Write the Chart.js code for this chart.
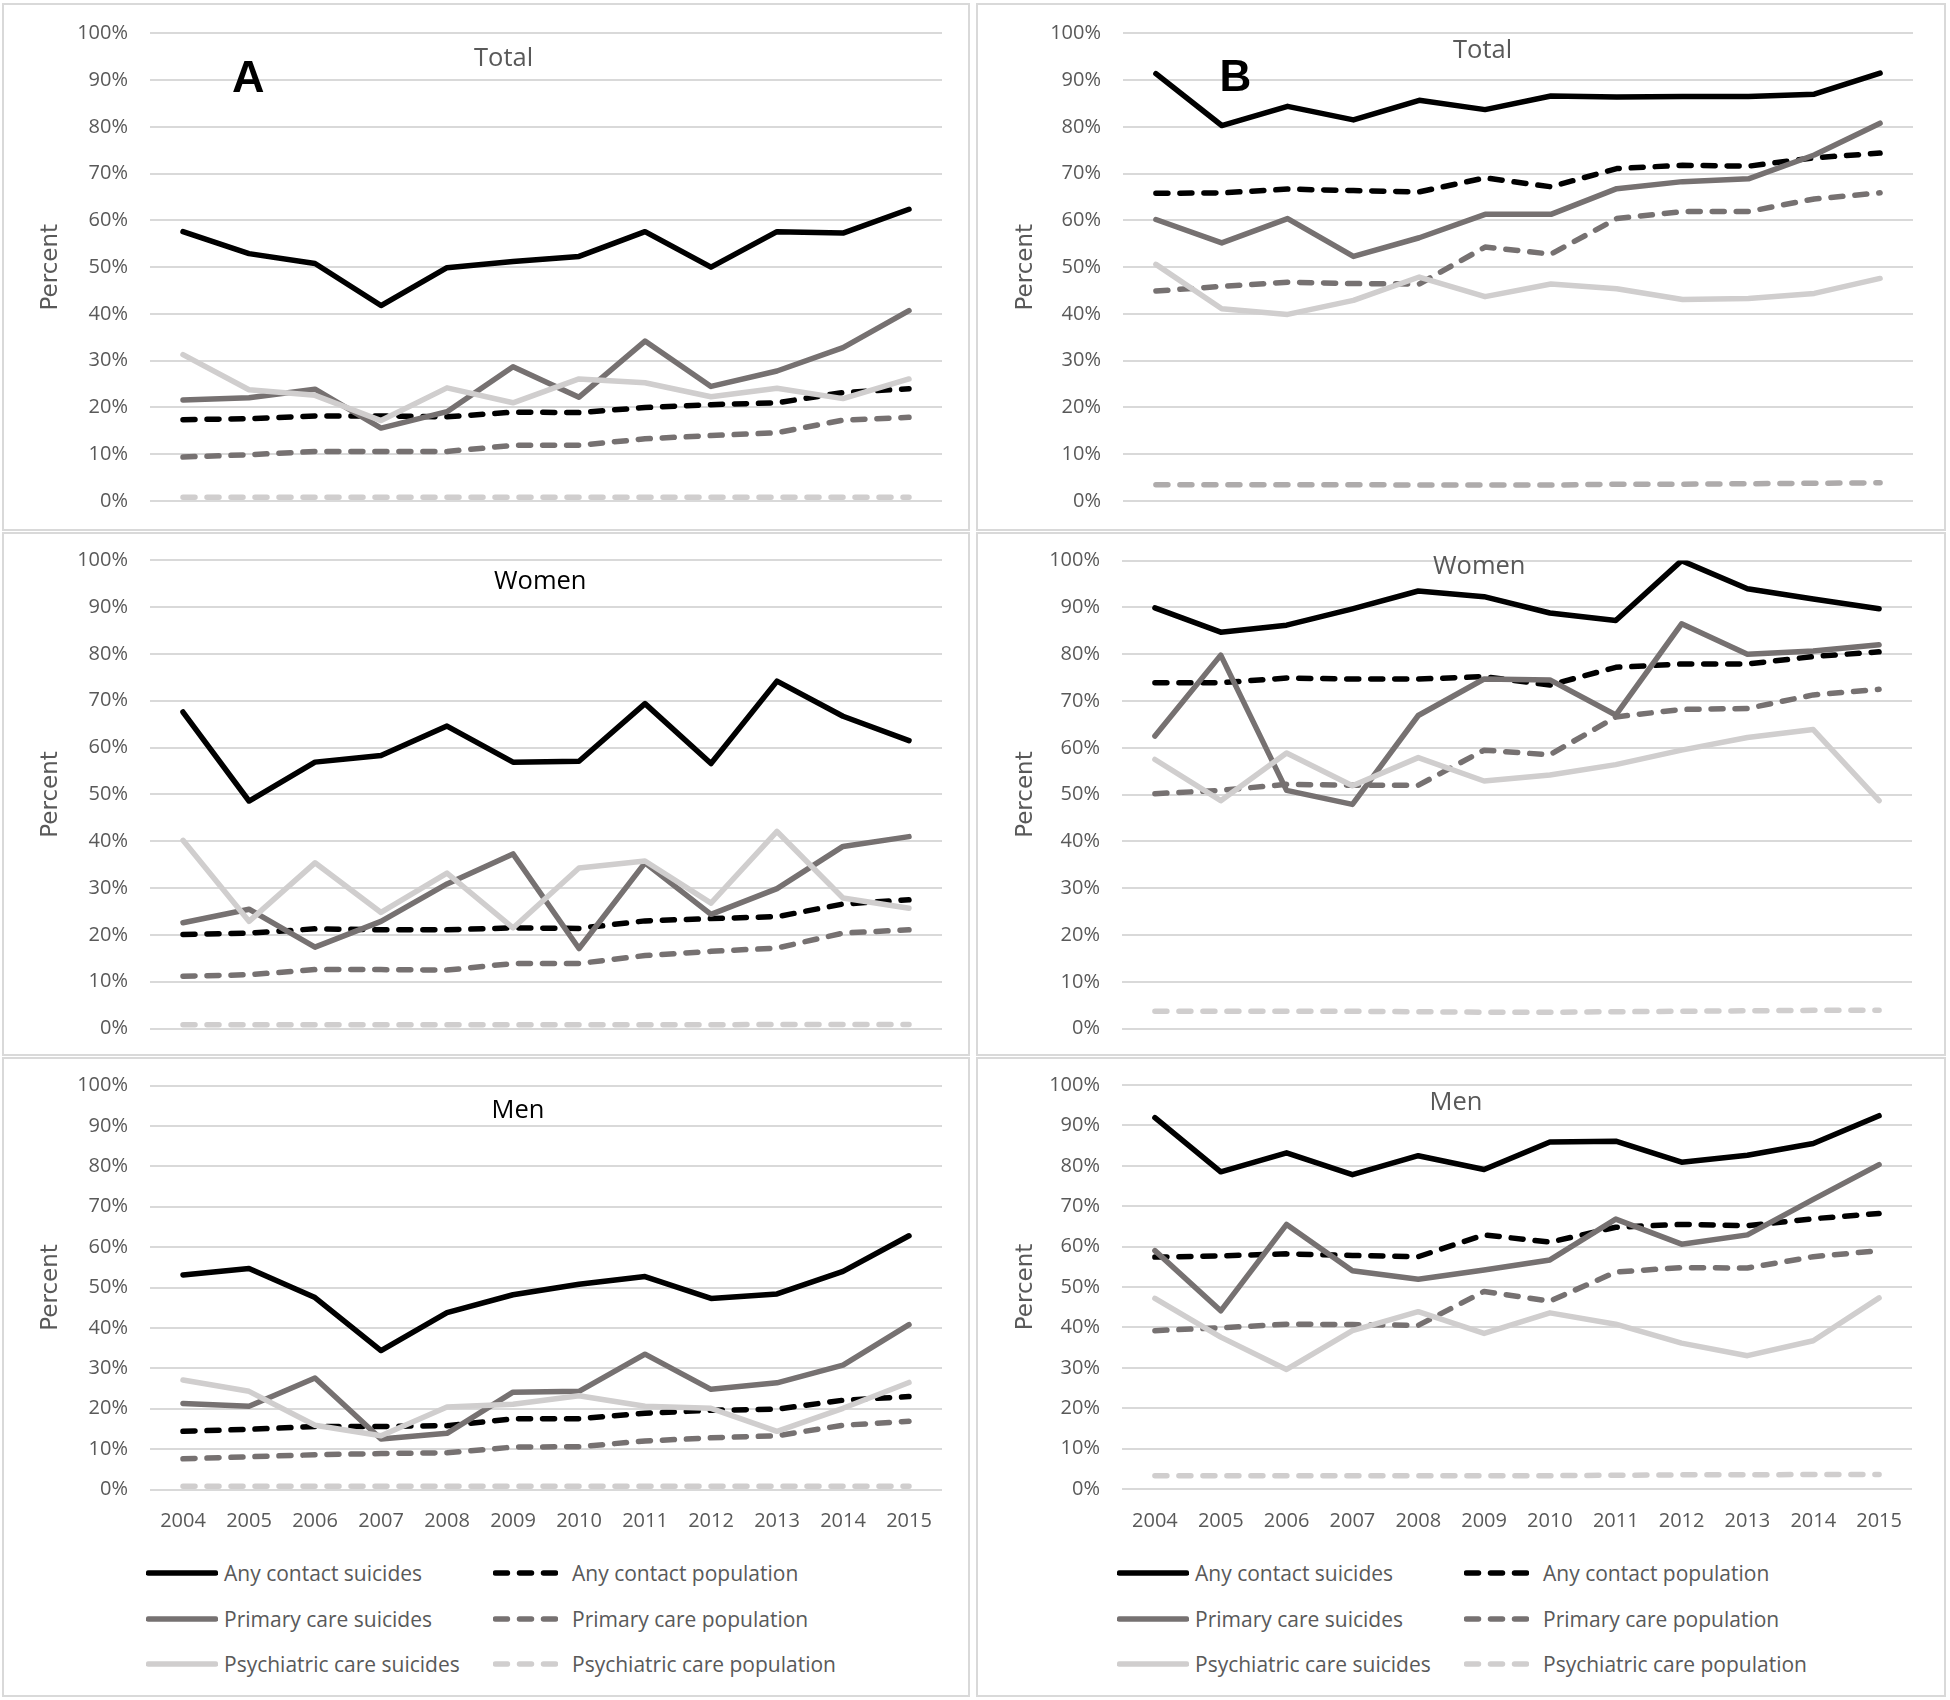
<!DOCTYPE html>
<html>
<head>
<meta charset="utf-8">
<script src="https://cdn.jsdelivr.net/npm/chart.js@4.4.0/dist/chart.umd.min.js"></script>
<style>
  body { margin: 0; background: #fff; width: 1950px; height: 1700px; position: relative; overflow: hidden; font-family: 'Open Sans', sans-serif; }
  .box { position: absolute; border: 2px solid #d9d9d9; box-sizing: border-box; }
  canvas.c { position: absolute; }
  .ttl { position: absolute; font-family: 'Open Sans', sans-serif; font-size: 25.5px; line-height: 1; white-space: nowrap; }
  .tag { position: absolute; font-weight: bold; line-height: 1; color: #000; }
  .leg { position: absolute; height: 30px; display: flex; align-items: center; font-size: 21px; color: #595959; white-space: nowrap; }
  .leg svg { display: block; }
</style>
</head>
<body>
<script>
'use strict';

/* ── Data (percent) ───────────────────────────── */
var years = ['2004','2005','2006','2007','2008','2009','2010','2011','2012','2013','2014','2015'];
var seriesNames = ['Any contact suicides', 'Any contact population',
                   'Primary care suicides', 'Primary care population',
                   'Psychiatric care suicides', 'Psychiatric care population'];
var yTicks = [0, 10, 20, 30, 40, 50, 60, 70, 80, 90, 100];

/* A — Total */
var aTotAnySui  = [57.6, 52.9, 50.8, 41.8, 49.9, 51.2, 52.3, 57.6, 50.0, 57.6, 57.3, 62.4];
var aTotAnyPop  = [17.4, 17.6, 18.2, 18.2, 18.0, 19.0, 18.9, 20.0, 20.6, 21.0, 23.2, 24.0];
var aTotPriSui  = [21.6, 22.1, 23.9, 15.6, 19.1, 28.7, 22.2, 34.2, 24.5, 27.8, 32.8, 40.7];
var aTotPriPop  = [9.4, 9.9, 10.6, 10.6, 10.6, 11.9, 11.9, 13.3, 14.0, 14.6, 17.3, 17.9];
var aTotPsySui  = [31.3, 23.8, 22.6, 17.2, 24.2, 21.0, 26.1, 25.3, 22.3, 24.1, 21.9, 26.1];
var aTotPsyPop  = [0.8, 0.8, 0.8, 0.8, 0.8, 0.8, 0.8, 0.8, 0.8, 0.8, 0.8, 0.8];

/* B — Total */
var bTotAnySui  = [91.4, 80.3, 84.4, 81.5, 85.7, 83.7, 86.6, 86.4, 86.5, 86.5, 87.0, 91.5];
var bTotAnyPop  = [65.8, 65.9, 66.7, 66.4, 66.1, 69.1, 67.2, 71.1, 71.8, 71.6, 73.4, 74.4];
var bTotPriSui  = [60.2, 55.2, 60.4, 52.3, 56.3, 61.3, 61.3, 66.8, 68.3, 68.9, 74.0, 80.8];
var bTotPriPop  = [44.9, 45.9, 46.8, 46.5, 46.4, 54.3, 52.8, 60.4, 61.9, 61.9, 64.6, 65.9];
var bTotPsySui  = [50.6, 41.1, 39.9, 42.9, 47.9, 43.7, 46.4, 45.4, 43.1, 43.3, 44.4, 47.6];
var bTotPsyPop  = [3.5, 3.5, 3.5, 3.5, 3.4, 3.4, 3.4, 3.6, 3.6, 3.7, 3.8, 3.9];

/* A — Women */
var aWomAnySui  = [67.6, 48.6, 56.9, 58.3, 64.6, 56.9, 57.1, 69.4, 56.6, 74.2, 66.7, 61.5];
var aWomAnyPop  = [20.1, 20.4, 21.3, 21.1, 21.1, 21.5, 21.4, 23.0, 23.5, 23.9, 26.6, 27.5];
var aWomPriSui  = [22.6, 25.5, 17.4, 22.9, 30.9, 37.3, 17.1, 35.4, 24.4, 29.9, 38.9, 41.0];
var aWomPriPop  = [11.2, 11.5, 12.6, 12.6, 12.5, 13.9, 13.9, 15.6, 16.5, 17.2, 20.4, 21.1];
var aWomPsySui  = [40.2, 22.9, 35.4, 24.8, 33.2, 21.5, 34.3, 35.8, 26.8, 42.1, 27.9, 25.7];
var aWomPsyPop  = [0.8, 0.8, 0.8, 0.8, 0.8, 0.8, 0.8, 0.8, 0.8, 0.9, 0.9, 0.9];

/* B — Women */
var bWomAnySui  = [89.9, 84.7, 86.2, 89.7, 93.5, 92.3, 88.8, 87.2, 100.0, 94.0, 91.8, 89.7];
var bWomAnyPop  = [73.9, 73.9, 74.9, 74.7, 74.7, 75.2, 73.4, 77.2, 77.9, 77.9, 79.5, 80.5];
var bWomPriSui  = [62.5, 79.8, 50.9, 47.9, 66.9, 74.7, 74.5, 67.0, 86.5, 80.0, 80.7, 82.0];
var bWomPriPop  = [50.2, 50.9, 52.2, 52.0, 52.0, 59.5, 58.5, 66.6, 68.2, 68.4, 71.3, 72.5];
var bWomPsySui  = [57.5, 48.7, 58.9, 51.9, 57.9, 52.9, 54.2, 56.4, 59.5, 62.2, 63.9, 48.7];
var bWomPsyPop  = [3.7, 3.7, 3.7, 3.7, 3.6, 3.5, 3.5, 3.6, 3.7, 3.8, 3.9, 3.9];

/* A — Men */
var aMenAnySui  = [53.1, 54.7, 47.5, 34.4, 43.8, 48.2, 50.8, 52.7, 47.3, 48.4, 54.0, 62.8];
var aMenAnyPop  = [14.4, 14.9, 15.6, 15.6, 15.8, 17.5, 17.5, 18.9, 19.6, 19.9, 22.1, 23.0];
var aMenPriSui  = [21.3, 20.6, 27.6, 12.5, 13.9, 24.1, 24.3, 33.5, 24.8, 26.4, 30.8, 40.8];
var aMenPriPop  = [7.6, 8.1, 8.6, 8.9, 9.1, 10.5, 10.6, 12.0, 12.8, 13.3, 15.9, 16.9];
var aMenPsySui  = [27.1, 24.3, 15.9, 13.3, 20.4, 21.1, 23.2, 20.6, 20.1, 14.4, 20.1, 26.5];
var aMenPsyPop  = [0.8, 0.8, 0.8, 0.8, 0.8, 0.8, 0.8, 0.8, 0.8, 0.8, 0.8, 0.8];

/* B — Men */
var bMenAnySui  = [91.9, 78.5, 83.2, 77.8, 82.5, 79.1, 85.9, 86.1, 80.9, 82.6, 85.5, 92.4];
var bMenAnyPop  = [57.4, 57.7, 58.2, 57.8, 57.5, 62.9, 61.1, 64.8, 65.5, 65.2, 66.9, 68.2];
var bMenPriSui  = [59.0, 44.1, 65.5, 54.0, 51.9, 54.2, 56.7, 66.8, 60.6, 62.9, 71.7, 80.3];
var bMenPriPop  = [39.2, 39.9, 40.8, 40.7, 40.5, 48.9, 46.5, 53.7, 54.8, 54.7, 57.5, 59.0];
var bMenPsySui  = [47.2, 37.6, 29.6, 39.2, 43.9, 38.5, 43.6, 40.8, 36.1, 33.0, 36.7, 47.3];
var bMenPsyPop  = [3.3, 3.3, 3.3, 3.3, 3.3, 3.3, 3.3, 3.4, 3.5, 3.5, 3.6, 3.6];

/* ── Series styles (same order as seriesNames) ── */
var seriesColors = ['#000000', '#000000', '#767171', '#767171', '#d0cece', '#d0cece'];
var seriesDashed = [false, true, false, true, false, true];

/* ── Panel layout: canvas box and plot area, page px ── */
var panels = [
  { title: 'Total', titleColor: '#595959', tx: 474,  ty: 43.6,
    cv: { x: 0,   y: 0,    w: 972, h: 531 }, plot: { l: 150,  t: 33.4, r: 942,  b: 501 },
    data: [aTotAnySui, aTotAnyPop, aTotPriSui, aTotPriPop, aTotPsySui, aTotPsyPop] },
  { title: 'Total', titleColor: '#595959', tx: 1453, ty: 36.2, psyPopColor: '#aeabab',
    cv: { x: 975, y: 0,    w: 972, h: 531 }, plot: { l: 1123, t: 33.4, r: 1913, b: 501 },
    data: [bTotAnySui, bTotAnyPop, bTotPriSui, bTotPriPop, bTotPsySui, bTotPsyPop] },
  { title: 'Women', titleColor: '#000000', tx: 494,  ty: 567.2,
    cv: { x: 0,   y: 531,  w: 972, h: 525 }, plot: { l: 150,  t: 560.3, r: 942, b: 1028.6 },
    data: [aWomAnySui, aWomAnyPop, aWomPriSui, aWomPriPop, aWomPsySui, aWomPsyPop] },
  { title: 'Women', titleColor: '#595959', tx: 1433, ty: 551.6,
    cv: { x: 975, y: 531,  w: 972, h: 525 }, plot: { l: 1122, t: 560.6, r: 1912, b: 1028.6 },
    data: [bWomAnySui, bWomAnyPop, bWomPriSui, bWomPriPop, bWomPsySui, bWomPsyPop] },
  { title: 'Men', titleColor: '#000000', tx: 491.5, ty: 1095.6, legendX: 0,
    cv: { x: 0,   y: 1056, w: 972, h: 500 }, plot: { l: 150,  t: 1085.5, r: 942, b: 1489.5 },
    data: [aMenAnySui, aMenAnyPop, aMenPriSui, aMenPriPop, aMenPsySui, aMenPsyPop] },
  { title: 'Men', titleColor: '#595959', tx: 1429.5, ty: 1088.2, legendX: 971,
    cv: { x: 975, y: 1056, w: 972, h: 500 }, plot: { l: 1122, t: 1085, r: 1912, b: 1489 },
    data: [bMenAnySui, bMenAnyPop, bMenPriSui, bMenPriPop, bMenPsySui, bMenPsyPop] }
];

/* ── Panel frames ─────────────────────────────── */
var frames = [
  [2, 3, 968, 528], [976, 3, 970, 528],
  [2, 532, 968, 524], [976, 532, 970, 524],
  [2, 1057, 968, 640], [976, 1057, 970, 640]
];
frames.forEach(function (f) {
  var d = document.createElement('div');
  d.className = 'box';
  d.style.left = f[0] + 'px'; d.style.top = f[1] + 'px';
  d.style.width = f[2] + 'px'; d.style.height = f[3] + 'px';
  document.body.appendChild(d);
});

Chart.defaults.font.family = "'Open Sans', sans-serif";
Chart.defaults.color = '#595959';

function buildDatasets(arrs, psyPopColor) {
  return arrs.map(function (vals, i) {
    var color = (i === 5 && psyPopColor) ? psyPopColor : seriesColors[i];
    return {
      label: seriesNames[i],
      data: vals,
      borderColor: color,
      backgroundColor: color,
      borderWidth: 5.5,
      borderDash: seriesDashed[i] ? [12, 12] : [],
      borderCapStyle: 'round',
      borderJoinStyle: 'round',
      pointRadius: 0,
      pointHoverRadius: 0,
      tension: 0,
      fill: false,
      order: arrs.length - i   /* later series drawn on top, as in the source */
    };
  });
}

function legendSample(color, dashed) {
  var w = dashed ? 65 : 72;
  var dash = dashed ? ' stroke-dasharray="12 12"' : '';
  return '<svg width="' + w + '" height="10"><line x1="2.5" y1="5" x2="' + (w - 2.5) + '" y2="5" stroke="' + color +
         '" stroke-width="5.5" stroke-linecap="round"' + dash + '/></svg>';
}

function buildLegend(chart, offsetX) {
  var rowsY = [1573, 1619, 1664];
  chart.data.datasets.forEach(function (ds, i) {
    var col = i % 2, row = Math.floor(i / 2);
    var el = document.createElement('div');
    el.className = 'leg';
    el.style.left = (offsetX + (col === 0 ? 146 : 493)) + 'px';
    el.style.top = (rowsY[row] - 15) + 'px';
    var gap = col === 0 ? 6 : 14;
    el.innerHTML = legendSample(ds.borderColor, ds.borderDash.length > 0) +
                   '<span style="margin-left:' + gap + 'px">' + ds.label + '</span>';
    document.body.appendChild(el);
  });
}

panels.forEach(function (p) {
  var cv = document.createElement('canvas');
  cv.className = 'c';
  cv.width = p.cv.w; cv.height = p.cv.h;
  cv.style.left = p.cv.x + 'px'; cv.style.top = p.cv.y + 'px';
  cv.style.width = p.cv.w + 'px'; cv.style.height = p.cv.h + 'px';
  document.body.appendChild(cv);

  var showX = p.legendX !== undefined;
  var yWidth = p.plot.l - p.cv.x;
  var padTop = p.plot.t - p.cv.y;
  var padRight = p.cv.x + p.cv.w - p.plot.r;
  var xHeight = p.cv.y + p.cv.h - p.plot.b;

  var chart = new Chart(cv, {
    type: 'line',
    data: { labels: years, datasets: buildDatasets(p.data, p.psyPopColor) },
    options: {
      responsive: false, animation: false, devicePixelRatio: 1,
      layout: { padding: { top: padTop, right: padRight, bottom: showX ? 0 : xHeight, left: 0 } },
      plugins: { legend: { display: false }, tooltip: { enabled: false }, title: { display: false } },
      scales: {
        x: {
          display: showX,
          offset: true,
          grid: { display: false },
          border: { display: false },
          ticks: { color: '#595959', font: { size: 20 }, padding: 12, maxRotation: 0, autoSkip: false },
          afterFit: function (s) { s.height = showX ? xHeight : 0; s.paddingLeft = 0; s.paddingRight = 0; }
        },
        y: {
          min: 0, max: 100,
          afterBuildTicks: function (s) { s.ticks = yTicks.map(function (v) { return { value: v }; }); },
          ticks: { color: '#595959', font: { size: 20 }, padding: 22, callback: function (v) { return v + '%'; } },
          grid: { color: '#d9d9d9', lineWidth: 2, drawTicks: false },
          border: { display: false },
          title: { display: true, text: 'Percent', color: '#595959',
                   font: { family: "'DejaVu Sans', sans-serif", size: 23 }, padding: { top: 37, bottom: 0 } },
          afterFit: function (s) { s.width = yWidth; s.paddingTop = 0; s.paddingBottom = 0; }
        }
      }
    }
  });

  var t = document.createElement('div');
  t.className = 'ttl';
  t.style.left = p.tx + 'px'; t.style.top = p.ty + 'px'; t.style.color = p.titleColor;
  t.textContent = p.title;
  document.body.appendChild(t);

  if (showX) buildLegend(chart, p.legendX);
});

/* Panel letters */
var tagA = document.createElement('div');
tagA.className = 'tag';
tagA.style.cssText += "left:232px;top:54px;font-family:'Liberation Sans',Arial,sans-serif;font-size:45px;";
tagA.textContent = 'A';
document.body.appendChild(tagA);

var tagB = document.createElement('div');
tagB.className = 'tag';
tagB.style.cssText += "left:1219.5px;top:54.3px;font-family:'Liberation Sans Narrow','Liberation Sans',sans-serif;font-size:44px;";
tagB.textContent = 'B';
document.body.appendChild(tagB);
</script>
</body>
</html>
